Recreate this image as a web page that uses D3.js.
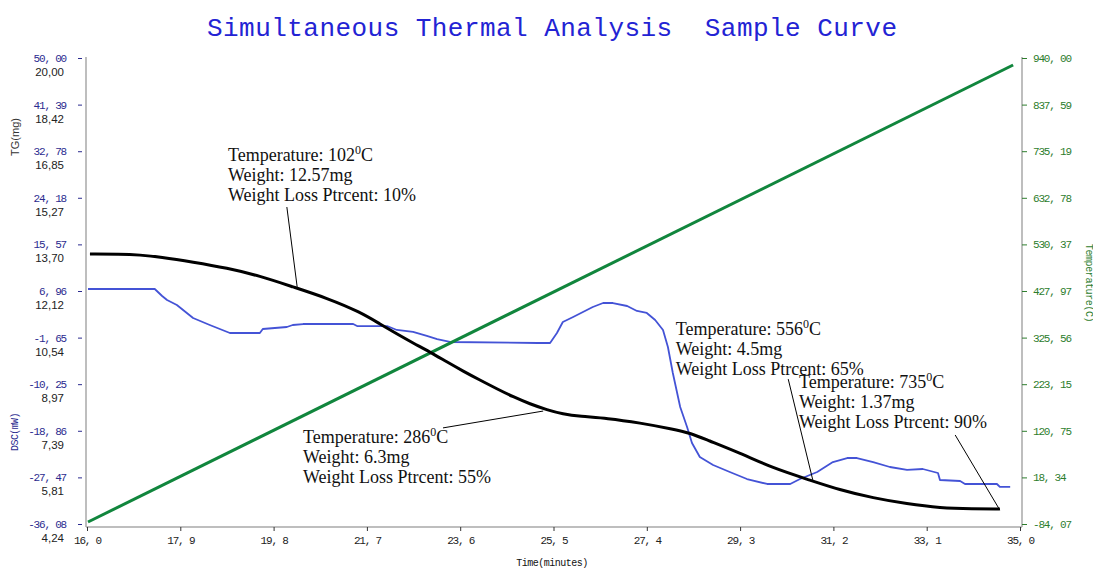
<!DOCTYPE html>
<html>
<head>
<meta charset="utf-8">
<script src="https://cdn.jsdelivr.net/npm/d3@7"></script>
<style>
  body { margin: 0; background: #fff; }
  svg { display: block; }
  .mono { font-family: "Liberation Mono", "DejaVu Sans Mono", monospace; }
</style>
</head>
<body>
<div id="chart"></div>
<script>
// time axis (minutes)
const xTicks = [16.0, 17.9, 19.8, 21.7, 23.6, 25.5, 27.4, 29.3, 31.2, 33.1, 35.0];
const xTickLabels = ["16, 0", "17, 9", "19, 8", "21, 7", "23, 6", "25, 5", "27, 4", "29, 3", "31, 2", "33, 1", "35, 0"];

// left axes: DSC (mW) and TG (mg)
const dscTicks = [50.00, 41.39, 32.78, 24.18, 15.57, 6.96, -1.65, -10.25, -18.86, -27.47, -36.08];
const dscTickLabels = ["50, 00", "41, 39", "32, 78", "24, 18", "15, 57", "6, 96", "-1, 65", "-10, 25", "-18, 86", "-27, 47", "-36, 08"];
const tgTickLabels = ["20,00", "18,42", "16,85", "15,27", "13,70", "12,12", "10,54", "8,97", "7,39", "5,81", "4,24"];

// right axis: temperature
const tempTicks = [940.00, 837.59, 735.19, 632.78, 530.37, 427.97, 325.56, 223.15, 120.75, 18.34, -84.07];
const tempTickLabels = ["940, 00", "837, 59", "735, 19", "632, 78", "530, 37", "427, 97", "325, 56", "223, 15", "120, 75", "18, 34", "-84, 07"];

// temperature programme (linear ramp)
const tempTime = [16.02, 34.86];
const tempValue = [-79.7, 924.6];

// TG curve (mg)
const tgTime = [16.06, 16.67, 17.08, 17.49, 18.16, 18.85, 19.52, 20.19, 20.89, 21.56, 21.97, 22.31, 22.64, 22.98, 23.33, 23.66, 24.00, 24.35, 24.68, 25.02, 25.37, 25.69, 26.04, 26.59, 27.26, 27.93, 28.28, 28.63, 29.30, 29.97, 30.66, 31.33, 32.01, 32.70, 33.37, 34.04, 34.59];
const tgValue = [13.37, 13.37, 13.34, 13.27, 13.10, 12.90, 12.63, 12.26, 11.88, 11.41, 11.00, 10.67, 10.36, 10.06, 9.72, 9.41, 9.11, 8.81, 8.54, 8.30, 8.10, 7.96, 7.88, 7.82, 7.66, 7.45, 7.32, 7.08, 6.64, 6.13, 5.76, 5.39, 5.12, 4.92, 4.78, 4.75, 4.75];

// DSC curve (mW)
const dscTime = [16.02, 17.38, 17.53, 17.63, 17.83, 18.16, 18.50, 18.91, 19.52, 19.58, 20.07, 20.19, 20.40, 21.42, 21.50, 22.11, 22.31, 22.64, 22.92, 23.13, 23.39, 25.18, 25.43, 25.57, 25.69, 25.90, 26.10, 26.30, 26.51, 26.71, 27.00, 27.20, 27.40, 27.57, 27.73, 27.83, 27.93, 28.08, 28.22, 28.32, 28.48, 28.75, 29.09, 29.44, 29.85, 30.32, 30.52, 30.87, 31.19, 31.48, 31.68, 32.01, 32.35, 32.70, 33.02, 33.33, 33.37, 33.78, 33.88, 34.53, 34.59, 34.80];
const dscValue = [7.33, 7.33, 6.04, 5.30, 4.37, 1.97, 0.68, -0.80, -0.80, -0.06, 0.31, 0.68, 0.86, 0.86, 0.49, 0.49, -0.24, -0.61, -1.35, -1.91, -2.46, -2.65, -2.65, -0.80, 1.23, 2.16, 3.08, 4.00, 4.74, 4.74, 4.19, 3.27, 2.90, 1.60, -0.24, -3.38, -8.19, -14.47, -18.16, -21.12, -23.70, -25.18, -26.47, -27.77, -28.69, -28.69, -27.77, -26.47, -24.63, -23.89, -23.89, -24.63, -25.55, -26.10, -25.92, -26.66, -27.95, -28.14, -28.69, -28.69, -29.24, -29.24];

// annotations: label position and leader line, in (time, TG) units
const annTemps = ["102", "286", "556", "735"];
const annWeights = ["12.57mg", "6.3mg", "4.5mg", "1.37mg"];
const annLoss = ["10%", "55%", "65%", "90%"];
const annLabelAt = [[18.87, 16.52], [20.40, 6.98], [27.99, 10.63], [30.50, 8.84]];
const annLeaderFrom = [[20.07, 14.96], [23.25, 7.49], [30.28, 9.14], [33.68, 7.25]];
const annLeaderTo = [[20.28, 12.26], [25.29, 8.06], [30.78, 5.73], [34.59, 4.71]];

const width = 1093, height = 570;
const plotTop = 58, plotBottom = 524, plotLeft = 86, plotRight = 1022, axisY = 527;

const svg = d3.select('#chart').append('svg')
  .attr('width', width)
  .attr('height', height);

const x = d3.scaleLinear().domain([16, 35]).range([87, 1020]);
const yDsc = d3.scaleLinear().domain([-36.08, 50]).range([plotBottom, plotTop]);
const yTg = d3.scaleLinear().domain([4.24, 20]).range([plotBottom, plotTop]);
const yTemp = d3.scaleLinear().domain([-84.07, 940]).range([plotBottom, plotTop]);

// title
svg.append('text')
  .attr('class', 'mono')
  .attr('x', 207)
  .attr('y', 36)
  .attr('textLength', 690)
  .attr('lengthAdjust', 'spacing')
  .style('font-size', '26px')
  .style('fill', '#2323d4')
  .text('Simultaneous Thermal Analysis\u00a0\u00a0Sample Curve');

// frame lines
const frame = svg.append('g').attr('stroke', '#a8a8a8').attr('stroke-width', 1.5);
frame.append('line').attr('x1', plotLeft).attr('x2', plotLeft).attr('y1', plotTop - 1).attr('y2', axisY);
frame.append('line').attr('x1', plotLeft).attr('x2', plotRight).attr('y1', axisY).attr('y2', axisY);
frame.append('line').attr('x1', plotRight).attr('x2', plotRight).attr('y1', plotTop - 1).attr('y2', axisY);

const monoTicks = sel => sel
  .style('font-family', '"Liberation Mono", monospace')
  .style('font-size', '11px')
  .style('letter-spacing', '-1.2px');

// bottom axis
const xAxis = svg.append('g')
  .attr('transform', `translate(0,${axisY})`)
  .call(d3.axisBottom(x).tickValues(xTicks).tickFormat((d, i) => xTickLabels[i]).tickSize(4).tickPadding(5).tickSizeOuter(0));
xAxis.select('.domain').remove();
xAxis.selectAll('line').attr('stroke', '#333');
xAxis.selectAll('text').call(monoTicks).style('fill', '#222');

svg.append('text')
  .attr('class', 'mono')
  .attr('x', 552)
  .attr('y', 566)
  .attr('text-anchor', 'middle')
  .style('font-size', '10px')
  .style('letter-spacing', '-0.5px')
  .style('fill', '#111')
  .text('Time(minutes)');

// left axis (DSC ticks + labels, TG labels below)
const leftAxis = svg.append('g')
  .attr('transform', `translate(82,0)`)
  .call(d3.axisLeft(yDsc).tickValues(dscTicks).tickFormat((d, i) => dscTickLabels[i]).tickSize(4).tickPadding(12).tickSizeOuter(0));
leftAxis.select('.domain').remove();
leftAxis.selectAll('line').attr('stroke', '#2b2b8f');
leftAxis.selectAll('text').call(monoTicks).style('fill', '#2b2b8f');

svg.append('g').selectAll('text')
  .data(dscTicks)
  .enter().append('text')
    .attr('x', 64)
    .attr('y', d => yDsc(d) + 18)
    .attr('text-anchor', 'end')
    .style('font-family', '"Liberation Sans", Arial, sans-serif')
    .style('font-size', '11.5px')
    .style('fill', '#222')
    .text((d, i) => tgTickLabels[i]);

svg.append('text')
  .attr('transform', 'translate(19,137) rotate(-90)')
  .attr('text-anchor', 'middle')
  .style('font-family', '"Liberation Sans", Arial, sans-serif')
  .style('font-size', '11px')
  .style('fill', '#333')
  .text('TG(mg)');

svg.append('text')
  .attr('class', 'mono')
  .attr('transform', 'translate(18,432) rotate(-90)')
  .attr('text-anchor', 'middle')
  .style('font-size', '10px')
  .style('letter-spacing', '-0.6px')
  .style('fill', '#2b2b8f')
  .text('DSC(mW)');

// right axis (temperature)
const rightAxis = svg.append('g')
  .attr('transform', `translate(${plotRight},0)`)
  .call(d3.axisRight(yTemp).tickValues(tempTicks).tickFormat((d, i) => tempTickLabels[i]).tickSize(5).tickPadding(6).tickSizeOuter(0));
rightAxis.select('.domain').remove();
rightAxis.selectAll('line').attr('stroke', '#2d7d2d');
rightAxis.selectAll('text').call(monoTicks).style('fill', '#2d7d2d');

svg.append('text')
  .attr('class', 'mono')
  .attr('transform', 'translate(1086,283) rotate(90)')
  .attr('text-anchor', 'middle')
  .style('font-size', '10px')
  .style('letter-spacing', '-0.4px')
  .style('fill', '#2d7d2d')
  .text('Temperature(C)');

// curves
const line = (yScale) => d3.line().x(d => x(d[0])).y(d => yScale(d[1]));

svg.append('path')
  .datum(dscTime.map((t, i) => [t, dscValue[i]]))
  .attr('d', line(yDsc))
  .attr('fill', 'none')
  .attr('stroke', '#4453d6')
  .attr('stroke-width', 1.8)
  .attr('stroke-linejoin', 'round');

svg.append('path')
  .datum(tempTime.map((t, i) => [t, tempValue[i]]))
  .attr('d', line(yTemp))
  .attr('fill', 'none')
  .attr('stroke', '#11863d')
  .attr('stroke-width', 3);

svg.append('path')
  .datum(tgTime.map((t, i) => [t, tgValue[i]]))
  .attr('d', line(yTg).curve(d3.curveBasis))
  .attr('fill', 'none')
  .attr('stroke', '#000')
  .attr('stroke-width', 3);

// annotations
const ann = svg.append('g');
annTemps.forEach((temp, i) => {
  ann.append('line')
    .attr('x1', x(annLeaderFrom[i][0])).attr('y1', yTg(annLeaderFrom[i][1]))
    .attr('x2', x(annLeaderTo[i][0])).attr('y2', yTg(annLeaderTo[i][1]))
    .attr('stroke', '#000')
    .attr('stroke-width', 1);

  const lx = x(annLabelAt[i][0]);
  const ly = yTg(annLabelAt[i][1]);
  const t = ann.append('text')
    .attr('x', lx)
    .attr('y', ly)
    .style('font-family', '"Liberation Serif", "Times New Roman", serif')
    .style('font-size', '18px')
    .style('fill', '#111');
  t.append('tspan').text(`Temperature: ${temp}`);
  t.append('tspan').attr('dy', -7).style('font-size', '12px').text('0');
  t.append('tspan').attr('dy', 7).text('C');
  t.append('tspan').attr('x', lx).attr('dy', 20).text(`Weight: ${annWeights[i]}`);
  t.append('tspan').attr('x', lx).attr('dy', 20).text(`Weight Loss Ptrcent: ${annLoss[i]}`);
});
</script>
</body>
</html>
